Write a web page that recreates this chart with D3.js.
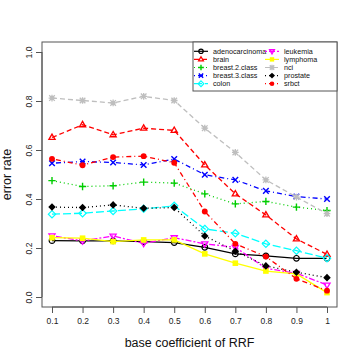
<!DOCTYPE html>
<html>
<head>
<meta charset="utf-8">
<script src="https://cdn.jsdelivr.net/npm/d3@7/dist/d3.min.js"></script>
<style>
  html, body { margin: 0; padding: 0; background: #fff; }
  svg { display: block; font-family: "Liberation Sans", Arial, sans-serif; }
</style>
</head>
<body>
<div id="chart"></div>
<script>
'use strict';

/* ── Data ── */
const coefs = [0.1, 0.2, 0.3, 0.4, 0.5, 0.6, 0.7, 0.8, 0.9, 1];
const xTickLabels = ['0.1', '0.2', '0.3', '0.4', '0.5', '0.6', '0.7', '0.8', '0.9', '1'];
const yTicks = [0, 0.2, 0.4, 0.6, 0.8, 1.0];

const adenocarcinoma = [0.230, 0.229, 0.229, 0.226, 0.222, 0.203, 0.176, 0.168, 0.158, 0.158];
const brain          = [0.651, 0.703, 0.662, 0.689, 0.680, 0.539, 0.421, 0.335, 0.237, 0.174];
const breast2        = [0.475, 0.451, 0.454, 0.469, 0.465, 0.421, 0.380, 0.390, 0.367, 0.353];
const breast3        = [0.546, 0.553, 0.549, 0.539, 0.563, 0.499, 0.478, 0.433, 0.410, 0.400];
const colon          = [0.338, 0.342, 0.351, 0.360, 0.372, 0.278, 0.260, 0.217, 0.189, 0.158];
const leukemia       = [0.250, 0.229, 0.249, 0.219, 0.242, 0.217, 0.203, 0.117, 0.097, 0.049];
const lymphoma       = [0.242, 0.240, 0.226, 0.233, 0.233, 0.176, 0.138, 0.106, 0.094, 0.018];
const nci            = [0.812, 0.802, 0.792, 0.819, 0.802, 0.689, 0.590, 0.478, 0.408, 0.340];
const prostate       = [0.367, 0.365, 0.376, 0.362, 0.365, 0.249, 0.187, 0.127, 0.101, 0.079];
const srbct          = [0.564, 0.538, 0.571, 0.575, 0.548, 0.349, 0.217, 0.165, 0.074, 0.026];

const seriesNames = ['adenocarcinoma', 'brain', 'breast.2.class', 'breast.3.class', 'colon',
                     'leukemia', 'lymphoma', 'nci', 'prostate', 'srbct'];
const seriesValues = [adenocarcinoma, brain, breast2, breast3, colon,
                      leukemia, lymphoma, nci, prostate, srbct];
const seriesColors = ['#000000', '#ff0000', '#00cd00', '#0000ff', '#00ffff',
                      '#ff00ff', '#ffff00', '#bebebe', '#000000', '#ff0000'];
const seriesDash = ['', '5,3', '1,3', '1,3,5,3', '8,3', '2,2,6,2', '', '5,3', '1,3', '1,3,5,3'];
const seriesShape = ['circle', 'triUp', 'plus', 'cross', 'diamond', 'triDown', 'square', 'star', 'diamondFill', 'dot'];

/* ── Layout ── */
const W = 360, H = 360;
const box = { left: 42, right: 337, top: 42, bottom: 307 };

const x = d3.scaleLinear().domain([0.1, 1]).range([52, 327]);
const y = d3.scaleLinear().domain([0, 1]).range([297, 52]);

const svg = d3.select('#chart').append('svg')
  .attr('width', W).attr('height', H);

/* ── Axes ── */
const xAxis = svg.append('g')
  .attr('transform', `translate(0,${box.bottom})`)
  .call(d3.axisBottom(x).tickValues(coefs).tickFormat((d, i) => xTickLabels[i]).tickSize(6).tickPadding(5));
xAxis.select('.domain').attr('d', `M${x(0.1)},0H${x(1)}`);

const yAxis = svg.append('g')
  .attr('transform', `translate(${box.left},0)`)
  .call(d3.axisLeft(y).tickValues(yTicks).tickFormat(d3.format('.1f')).tickSize(6));
yAxis.select('.domain').attr('d', `M0,${y(0)}V${y(1)}`);

[xAxis, yAxis].forEach(g => {
  g.selectAll('path, line').attr('stroke', '#555');
  g.selectAll('text').attr('fill', '#222').style('font-size', '8.5px');
});
// R draws y tick labels parallel to the axis
yAxis.selectAll('.tick text')
  .attr('text-anchor', 'middle')
  .attr('x', 0)
  .attr('dy', 0)
  .attr('transform', 'translate(-10,0) rotate(-90)');

// plot frame
svg.append('rect')
  .attr('x', box.left).attr('y', box.top)
  .attr('width', box.right - box.left).attr('height', box.bottom - box.top)
  .attr('fill', 'none').attr('stroke', '#555');

// axis titles
svg.append('text')
  .attr('x', (box.left + box.right) / 2).attr('y', 347)
  .attr('text-anchor', 'middle').style('font-size', '12.5px').attr('fill', '#111')
  .text('base coefficient of RRF');
svg.append('text')
  .attr('transform', `translate(11,${(box.top + box.bottom) / 2}) rotate(-90)`)
  .attr('text-anchor', 'middle').style('font-size', '12.5px').attr('fill', '#111')
  .text('error rate');

/* ── Markers ── */
function drawMarker(g, shape, color, r) {
  switch (shape) {
    case 'circle':
      g.append('circle').attr('r', r).attr('fill', 'none').attr('stroke', color).attr('stroke-width', 1.2); break;
    case 'triUp':
      g.append('path').attr('d', `M0,${-r * 1.2}L${r * 1.1},${r * 0.7}L${-r * 1.1},${r * 0.7}Z`)
        .attr('fill', 'none').attr('stroke', color).attr('stroke-width', 1.3); break;
    case 'triDown':
      g.append('path').attr('d', `M0,${r * 1.2}L${r * 1.1},${-r * 0.7}L${-r * 1.1},${-r * 0.7}Z`)
        .attr('fill', 'none').attr('stroke', color).attr('stroke-width', 1.3); break;
    case 'plus':
      g.append('path').attr('d', `M${-r * 1.3},0H${r * 1.3}M0,${-r * 1.3}V${r * 1.3}`)
        .attr('stroke', color).attr('stroke-width', 1.4); break;
    case 'cross':
      g.append('path').attr('d', `M${-r},${-r}L${r},${r}M${-r},${r}L${r},${-r}`)
        .attr('stroke', color).attr('stroke-width', 1.4); break;
    case 'diamond':
      g.append('path').attr('d', `M0,${-r * 1.3}L${r * 1.3},0L0,${r * 1.3}L${-r * 1.3},0Z`)
        .attr('fill', 'none').attr('stroke', color).attr('stroke-width', 1.2); break;
    case 'diamondFill':
      g.append('path').attr('d', `M0,${-r * 1.35}L${r * 1.35},0L0,${r * 1.35}L${-r * 1.35},0Z`)
        .attr('fill', color); break;
    case 'square':
      g.append('rect').attr('x', -r).attr('y', -r).attr('width', 2 * r).attr('height', 2 * r).attr('fill', color); break;
    case 'star':
      g.append('path').attr('d', `M${-r * 1.2},0H${r * 1.2}M0,${-r * 1.2}V${r * 1.2}M${-r},${-r}L${r},${r}M${-r},${r}L${r},${-r}`)
        .attr('stroke', color).attr('stroke-width', 1.3);
      g.append('circle').attr('r', r * 0.7).attr('fill', color); break;
    case 'dot':
      g.append('circle').attr('r', r * 1.05).attr('fill', color); break;
  }
}

/* ── Lines and points ── */
const line = d3.line().x((d, i) => x(coefs[i])).y(d => y(d));

seriesValues.forEach((vals, k) => {
  const g = svg.append('g');
  g.append('path')
    .datum(vals)
    .attr('d', line)
    .attr('fill', 'none')
    .attr('stroke', seriesColors[k])
    .attr('stroke-width', 1.3)
    .attr('stroke-dasharray', seriesDash[k]);
  vals.forEach((v, i) => {
    const m = g.append('g').attr('transform', `translate(${x(coefs[i])},${y(v)})`);
    drawMarker(m, seriesShape[k], seriesColors[k], 2.8);
  });
});

/* ── Legend ── */
const legend = svg.append('g');
legend.append('rect')
  .attr('x', 193).attr('y', box.top)
  .attr('width', box.right - 193).attr('height', 49)
  .attr('fill', '#fff').attr('stroke', '#555');

seriesNames.forEach((name, k) => {
  const col = Math.floor(k / 5), row = k % 5;
  const lx = col === 0 ? 194 : 265;
  const ly = 51.3 + row * 8.1;
  const item = legend.append('g');
  item.append('line')
    .attr('x1', lx).attr('x2', lx + 14).attr('y1', ly).attr('y2', ly)
    .attr('stroke', seriesColors[k]).attr('stroke-width', 1.2)
    .attr('stroke-dasharray', seriesDash[k]);
  drawMarker(item.append('g').attr('transform', `translate(${lx + 7},${ly})`), seriesShape[k], seriesColors[k], 2.2);
  item.append('text')
    .attr('x', lx + 19).attr('y', ly).attr('dy', '0.35em')
    .style('font-size', '7.2px').attr('fill', '#111')
    .text(name);
});
</script>
</body>
</html>
